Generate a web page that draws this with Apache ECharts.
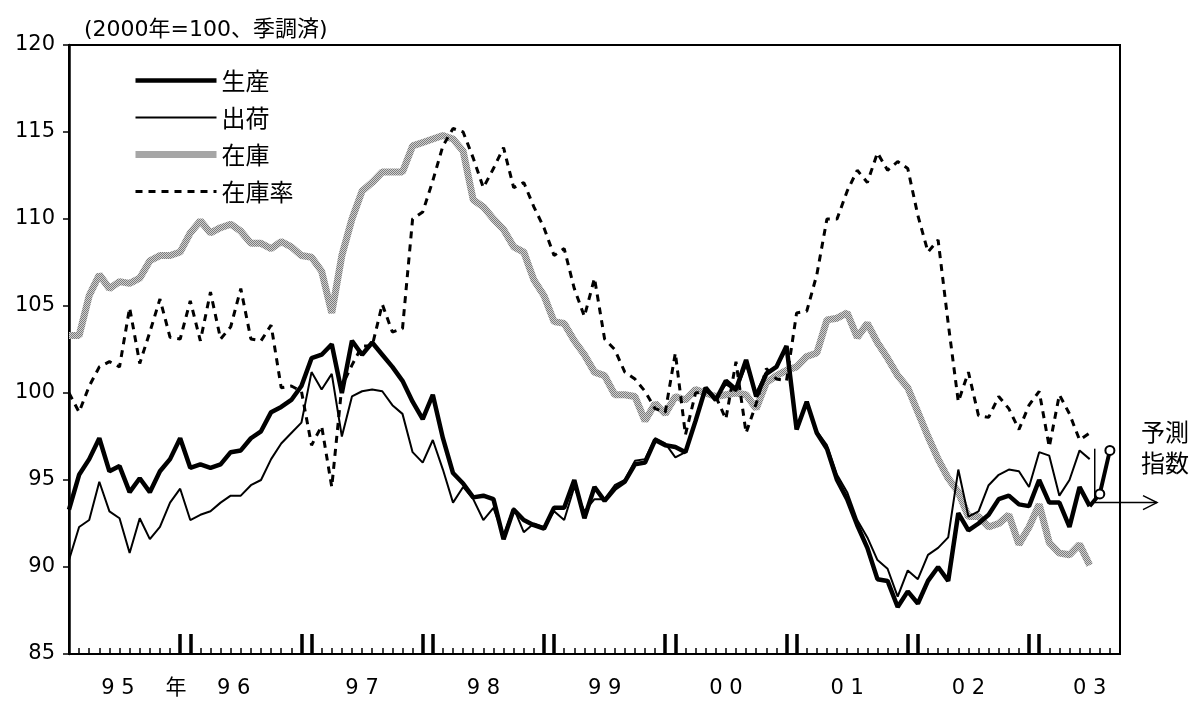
<!DOCTYPE html>
<html><head><meta charset="utf-8">
<script src="https://cdn.jsdelivr.net/npm/echarts@6/dist/echarts.min.js"></script>
<style>html,body{margin:0;padding:0;background:#fff}#c{width:1201px;height:702px}</style>
</head><body><div id="c"></div>
<script>
// Monthly index, Jan 1995 (0) .. Jun 2003 (101)
const production = [93.3,95.3,96.2,97.4,95.5,95.8,94.3,95.1,94.3,95.5,96.2,97.4,95.7,95.9,95.7,95.9,96.6,96.7,97.4,97.8,
98.9,99.2,99.6,100.4,102.0,102.2,102.8,100.0,103.0,102.2,102.9,102.2,101.5,100.7,99.5,98.5,99.9,97.4,95.4,94.8,
94.0,94.1,93.9,91.6,93.3,92.7,92.4,92.2,93.4,93.4,95.0,92.8,94.6,93.8,94.5,94.9,95.9,96.0,97.3,97.0,
96.9,96.6,98.4,100.3,99.6,100.7,100.2,101.9,99.8,101.1,101.5,102.7,97.9,99.5,97.7,96.8,95.0,93.9,92.4,91.1,
89.3,89.2,87.7,88.6,87.9,89.2,90.0,89.2,93.1,92.1,92.5,93.0,93.9,94.1,93.6,93.5,95.0,93.7,93.7,92.3,
94.6,93.5];
const shipments = [90.4,92.3,92.7,94.9,93.2,92.8,90.8,92.8,91.6,92.3,93.7,94.5,92.7,93.0,93.2,93.7,94.1,94.1,94.7,95.0,
96.2,97.1,97.7,98.3,101.2,100.2,101.1,97.5,99.8,100.1,100.2,100.1,99.3,98.8,96.6,96.0,97.3,95.6,93.7,94.6,
93.9,92.7,93.4,91.8,93.4,92.0,92.5,92.3,93.2,92.7,94.6,93.2,93.9,93.9,94.7,95.0,96.1,96.2,97.4,97.1,
96.3,96.6,98.5,100.2,99.7,100.5,100.1,101.6,100.0,101.2,101.5,102.5,98.0,99.4,97.8,97.0,95.3,94.3,92.7,91.7,
90.4,89.9,88.3,89.8,89.3,90.7,91.1,91.7,95.6,92.9,93.2,94.7,95.3,95.6,95.5,94.6,96.6,96.4,94.1,95.0,
96.7,96.2];
const inventory = [103.3,103.3,105.6,106.8,106.0,106.4,106.3,106.6,107.6,107.9,107.9,108.1,109.2,109.9,109.2,109.5,109.7,109.3,108.6,108.6,
108.3,108.7,108.4,107.9,107.8,107.0,104.6,107.9,110.0,111.6,112.1,112.7,112.7,112.7,114.2,114.4,114.6,114.8,114.6,113.9,
111.1,110.7,110.0,109.4,108.4,108.1,106.5,105.6,104.1,104.0,103.0,102.2,101.2,101.0,99.9,99.9,99.8,98.4,99.4,98.8,
99.8,99.6,100.2,100.0,99.8,99.9,100.0,99.9,99.1,100.6,101.0,101.3,101.5,102.1,102.3,104.2,104.3,104.6,103.2,104.0,
102.9,102.0,101.0,100.3,98.9,97.5,96.2,95.1,94.3,92.9,92.9,92.3,92.5,93.0,91.3,92.3,93.6,91.4,90.8,90.7,
91.3,90.1];
const inventoryRatio = [100.0,98.9,100.4,101.5,101.8,101.5,104.9,101.7,103.5,105.4,103.2,103.1,105.3,103.0,105.8,103.1,103.8,106.0,103.1,103.0,
103.9,100.3,100.4,100.1,97.0,98.1,94.6,100.4,101.6,102.7,102.7,105.1,103.5,103.7,110.0,110.4,112.2,114.2,115.2,115.0,
113.5,111.8,112.9,114.1,111.8,112.1,110.7,109.5,107.9,108.3,106.0,104.4,106.6,103.1,102.5,101.2,100.8,100.1,99.1,98.9,
102.3,97.6,100.0,100.1,99.8,98.5,101.8,97.7,99.4,101.4,100.8,100.7,104.6,104.7,106.8,110.0,110.0,111.6,112.8,112.1,
113.8,112.8,113.3,112.9,110.2,108.1,108.8,104.0,99.5,101.2,98.7,98.6,99.8,99.1,97.9,99.3,100.1,96.9,99.9,98.8,
97.3,97.7];
const forecastProduction = [94.2, 96.7]; // Jul, Aug 2003
const seriesNames = ['生産','出荷','在庫','在庫率'];
const yearLabels = ['9 5','年','9 6','9 7','9 8','9 9','0 0','0 1','0 2','0 3'];
const yearLabelPos = [4.85,10.6,16.3,29,41,53,65,77,89,101];
const yearTickPos = [11,12,23,24,35,36,47,48,59,60,71,72,83,84,95,96];
const titleText = '(2000年=100、季調済)';
const noteLines = ['予測','指数'];

const FONT = "'DejaVu Sans','Noto Sans CJK JP',sans-serif";
const CJK = "'Noto Sans CJK JP','DejaVu Sans',sans-serif";
const toPts = a => a.map((v,i)=>[i,v]);

// dithered grey pattern for inventory line
const pc = document.createElement('canvas'); pc.width = 2; pc.height = 2;
const pctx = pc.getContext('2d');
pctx.fillStyle = '#d0d0d0'; pctx.fillRect(0,0,2,2);
pctx.fillStyle = '#7c7c7c'; pctx.fillRect(0,0,1,1); pctx.fillRect(1,1,1,1);
const greyPattern = {image: pc, repeat: 'repeat'};

const styles = {
  '生産': {color:'#000', width:4.5},
  '出荷': {color:'#000', width:2},
  '在庫': {color: greyPattern, width:7},
  '在庫率': {color:'#000', width:3, type:[7,6]}
};

const last = production.length - 1;
const forecastData = [{value:[last, production[last]], symbol:'none'}]
  .concat(forecastProduction.map((v,k)=>({value:[last+1+k, v]})));

const chart = echarts.init(document.getElementById('c'), null, {renderer:'canvas'});
const option = {
  animation: false,
  textStyle: {fontFamily: FONT, color:'#000'},
  title: {text: titleText, left: 79, top: 14,
    textStyle:{fontFamily: FONT, fontSize: 22, fontWeight:'normal', color:'#000'}},
  legend: {data: seriesNames.map(n => ({name:n, lineStyle: Object.assign({}, styles[n]), itemStyle:{opacity:0}})),
    orient:'vertical', left: 127, top: 63,
    itemWidth: 81, itemHeight: 14, itemGap: 12, itemStyle:{opacity:0},
    textStyle:{fontFamily: CJK, fontSize: 24, color:'#000', lineHeight: 25}},
  grid: {left: 69, right: 81, top: 45, bottom: 48, show: true, borderColor:'#000', borderWidth: 2, backgroundColor:'transparent'},
  xAxis: [
    {type:'value', min:0, max:104, interval:1,
     axisLine:{show:true, lineStyle:{color:'#000', width:2}},
     axisTick:{show:true, inside:true, length:6, lineStyle:{color:'#000', width:1.5}},
     axisLabel:{show:false}, splitLine:{show:false}},
    {type:'value', min:0, max:104, position:'bottom',
     axisLine:{show:false},
     axisTick:{show:true, inside:true, length:20, customValues: yearTickPos, lineStyle:{color:'#000', width:3.5}},
     axisLabel:{show:true, customValues: yearLabelPos, margin: 24, fontSize: 21, color:'#000', fontFamily: FONT,
       formatter: v => { let k = 0, d = 1e9; yearLabelPos.forEach((p,j)=>{ if (Math.abs(p-v) < d) { d = Math.abs(p-v); k = j; } }); return yearLabels[k]; }},
     splitLine:{show:false}}
  ],
  yAxis: {type:'value', min:85, max:120, interval:5,
    axisLine:{show:true, lineStyle:{color:'#000', width:2.5}},
    axisTick:{show:true, inside:false, length:6, lineStyle:{color:'#000', width:1.5}},
    axisLabel:{fontSize:21, color:'#000', margin:14, fontFamily: FONT},
    splitLine:{show:false}},
  series: [
    {name:'在庫', type:'line', data: toPts(inventory), symbol:'none', z:1,
     lineStyle: styles['在庫'], itemStyle:{color:'#aaaaaa'}, emphasis:{disabled:true}},
    {name:'在庫率', type:'line', data: toPts(inventoryRatio), symbol:'none', z:2,
     lineStyle: styles['在庫率'], itemStyle:{color:'#000'}, emphasis:{disabled:true}},
    {name:'出荷', type:'line', data: toPts(shipments), symbol:'none', z:3,
     lineStyle: styles['出荷'], itemStyle:{color:'#000'}, emphasis:{disabled:true}},
    {name:'生産', type:'line', data: toPts(production), symbol:'none', z:4,
     lineStyle: styles['生産'], itemStyle:{color:'#000'}, emphasis:{disabled:true}},
    {name:'予測', type:'line', data: forecastData, symbol:'circle', symbolSize:9, z:5,
     lineStyle:{color:'#000', width:4}, itemStyle:{color:'#fff', borderColor:'#000', borderWidth:2}, emphasis:{disabled:true}}
  ]
};
chart.setOption(option);

// annotation: forecast marker and arrow
const pTop = chart.convertToPixel({xAxisIndex:0, yAxisIndex:0}, [last + 0.5, 96.8]);
const pBot = chart.convertToPixel({xAxisIndex:0, yAxisIndex:0}, [last + 0.5, 93.7]);
const ax = 1157;
chart.setOption({graphic:[
  {type:'line', shape:{x1:pTop[0], y1:pTop[1], x2:pBot[0], y2:pBot[1]}, style:{stroke:'#000', lineWidth:1.5}, z:10},
  {type:'line', shape:{x1:pBot[0], y1:pBot[1], x2:ax, y2:pBot[1]}, style:{stroke:'#000', lineWidth:1.5}, z:10},
  {type:'polyline', shape:{points:[[ax-14,pBot[1]-7],[ax,pBot[1]],[ax-14,pBot[1]+7]]}, style:{stroke:'#000', fill:null, lineWidth:1.5}, z:10},
  {type:'text', x:1165, y:432, style:{text: noteLines[0], fontSize:24, fontFamily:CJK, fill:'#000', align:'center', verticalAlign:'middle'}},
  {type:'text', x:1165, y:463, style:{text: noteLines[1], fontSize:24, fontFamily:CJK, fill:'#000', align:'center', verticalAlign:'middle'}}
]});
</script></body></html>
